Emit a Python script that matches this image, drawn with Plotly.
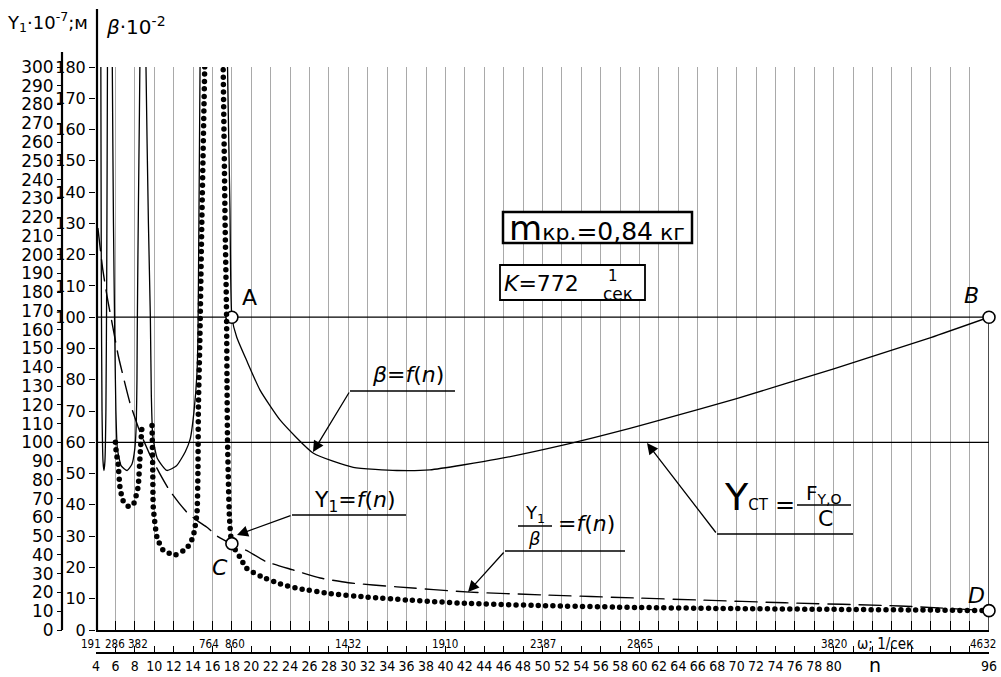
import plotly.graph_objects as go

# ---------------- data ----------------
n_grid_step = 2
omega_pos = [4, 6, 8, 16, 18, 30, 40, 50, 60, 80, 96]
omega_lab = ["191", "286", "382", "764", "860", "1432", "1910", "2387", "2865", "3820", "4632"]
n_label_vals = list(range(4, 81, 2)) + [96]

beta_ticks = list(range(0, 181, 10))
y1_ticks = list(range(0, 301, 10))

# beta = f(n)  (beta·10^-2 scale); values above 180 run off the chart top
beta_n = [4.45, 4.5, 4.55, 4.62, 4.72, 4.82, 4.92, 5.02, 5.1, 5.18, 5.25,
          5.6, 5.68, 5.8, 5.93, 6.05, 6.2, 6.6, 7.2, 7.7, 8.0, 8.15, 8.22, 8.25, 8.32, 8.42, 8.52, 8.6,
          9.0, 9.15, 9.4, 9.6, 9.7, 9.85, 10.3, 11.3, 12.3, 13.2, 13.7, 14.1, 14.4, 14.5, 14.6, 14.72, 14.85,
          17.3, 17.55, 17.8, 18.0, 18.5, 19.5, 20.9, 23.0, 26.4, 30.5, 35.0, 38.4, 45.3, 52.1, 59.0, 62.0,
          70.0, 80.0, 90.0, 96.0]
beta_v = [260, 180, 110, 70, 54, 51, 54, 70, 110, 180, 260,
          260, 180, 130, 95, 70, 58, 52.5, 51, 53, 58, 66, 80, 95, 120, 150, 180, 260,
          260, 180, 130, 100, 75, 62, 55, 51, 52.5, 57, 61, 70, 82, 93, 130, 180, 260,
          260, 180, 135, 100, 93.6, 86.3, 76.7, 67, 56.5, 52, 51, 51.2, 54.6, 59.1, 64.5, 67,
          74, 83.5, 93.5, 100]

# Y1 = f(n)  (Y1·10^-7 m scale)
y1_n = [6.0, 6.1, 6.27, 6.47, 6.78, 7.3, 7.81, 8.33, 8.53, 8.74, 8.84, None,
        9.77, 9.8, 9.85, 9.9, 10.28, 10.9, 12.14, 13.37, 13.99, 14.4, 14.5, 14.55, 14.7, 14.9, 15.2, 15.3, None,
        17.0, 17.1, 17.3, 17.45, 17.5, 17.55, 17.75, 18.0, 18.8, 19.5, 21, 23, 25, 28, 32, 36, 42, 50, 60,
        70, 80, 90, 96]
y1_v = [100, 94, 89, 76, 69, 66, 66.5, 76, 92, 108, 110, None,
        109, 101, 84, 65.5, 49.5, 42.6, 40, 43.7, 49.5, 62, 83.6, 119, 154.5, 217, 300, 330, None,
        330, 300, 217, 168, 130, 101, 60, 46, 39, 33, 28.5, 24.5, 22, 19.5, 17.5, 16, 14.2, 13, 12,
        11.4, 11, 10.6, 10.3]

# Y1/beta = f(n)  (drawn on the Y1 scale)
ratio_n = [4.2, 4.7, 5.2, 5.75, 6.3, 7.0, 7.5, 8.5, 9.5, 10.5, 11.5, 12.5, 13.5, 14.5, 15.5, 16.5,
           18.0, 19.5, 21.5, 24.3, 27.1, 30.0, 35.0, 42.5, 50.0, 60.0, 66.0, 75.0, 86.8, 96.0]
ratio_v = [214, 192, 176, 161, 146, 131, 121, 106, 94, 84, 75, 68, 62, 58, 54.5, 50,
           45.8, 42.4, 36.5, 32, 27.7, 25.2, 23, 20.2, 18.7, 17, 16, 14.5, 12.8, 10.3]

A_n, A_beta = 18, 100
B_n, B_beta = 96, 100
C_n, C_y1 = 18, 46
D_n, D_y1 = 96, 10.3
Y_CT_beta = 60
N_MIN, N_MAX = 4, 96

# ---------------- geometry helpers (layout only) ----------------
W, H = 1001, 677
ML, MR, MT, MB = 62, 12, 67, 24
PW, PH = W - ML - MR, H - MT - MB


def px(x):
    return (x - ML) / PW


def py(y):
    return (H - MB - y) / PH


FONT = "DejaVu Sans"
NARROW = "DejaVu Sans Condensed, Liberation Sans Narrow, Liberation Sans, Arial"

# horizontal nudges (px) for crowded omega labels
omega_shift = {4: -5, 6: 0, 8: 3, 16: -3, 18: 3, 96: -6}

fig = go.Figure()

fig.add_trace(go.Scatter(x=beta_n, y=beta_v, mode="lines", xaxis="x", yaxis="y",
                         line=dict(color="black", width=1.3, shape="spline", smoothing=0.5),
                         hoverinfo="skip"))
fig.add_trace(go.Scatter(x=ratio_n, y=ratio_v, mode="lines", xaxis="x", yaxis="y2",
                         line=dict(color="black", width=1.4, dash="22px,9px", shape="spline", smoothing=0.5),
                         hoverinfo="skip"))
fig.add_trace(go.Scatter(x=y1_n, y=y1_v, mode="lines", xaxis="x", yaxis="y2",
                         line=dict(color="black", width=5.5, dash="0px,7.4px", shape="spline", smoothing=0.5),
                         connectgaps=False, hoverinfo="skip"))
fig.add_trace(go.Scatter(x=[A_n, B_n], y=[A_beta, B_beta], mode="markers", xaxis="x", yaxis="y",
                         marker=dict(size=12, color="white", line=dict(color="black", width=1.6)),
                         cliponaxis=False, hoverinfo="skip"))
fig.add_trace(go.Scatter(x=[C_n, D_n], y=[C_y1, D_y1], mode="markers", xaxis="x", yaxis="y2",
                         marker=dict(size=12, color="white", line=dict(color="black", width=1.6)),
                         cliponaxis=False, hoverinfo="skip"))
# invisible trace so the second (n) axis is drawn
fig.add_trace(go.Scatter(x=[N_MIN, N_MAX], y=[0, 0], mode="markers", xaxis="x2", yaxis="y",
                         marker=dict(opacity=0), hoverinfo="skip"))

shapes = []
shapes.append(dict(type="line", xref="x", yref="y", x0=N_MIN, x1=B_n, y0=A_beta, y1=B_beta,
                   line=dict(color="black", width=1.2), layer="between"))
shapes.append(dict(type="line", xref="x", yref="y", x0=N_MIN, x1=B_n, y0=Y_CT_beta, y1=Y_CT_beta,
                   line=dict(color="black", width=1.2), layer="between"))
shapes.append(dict(type="line", xref="x", yref="y", x0=B_n, x1=B_n, y0=0, y1=B_beta,
                   line=dict(color="black", width=1.4), layer="between"))
# axis lines (extend above plot)
shapes.append(dict(type="line", xref="paper", yref="paper", x0=px(97), x1=px(97), y0=py(630), y1=py(9),
                   line=dict(color="black", width=2.2)))
shapes.append(dict(type="line", xref="paper", yref="paper", x0=px(62), x1=px(62), y0=py(630), y1=py(52),
                   line=dict(color="black", width=2.2)))
# underlines of labels
for (x0, x1, y) in [(350, 455, 391), (292, 406, 515), (505, 625, 551), (717, 853, 534)]:
    shapes.append(dict(type="line", xref="paper", yref="paper", x0=px(x0), x1=px(x1), y0=py(y), y1=py(y),
                       line=dict(color="black", width=1.5)))
# fraction bars
for (x0, x1, y) in [(518, 552, 526), (797, 851, 505), (600, 637, 286)]:
    shapes.append(dict(type="line", xref="paper", yref="paper", x0=px(x0), x1=px(x1), y0=py(y), y1=py(y),
                       line=dict(color="black", width=1.5)))
# boxes
shapes.append(dict(type="rect", xref="paper", yref="paper", x0=px(503), x1=px(692), y0=py(243), y1=py(212),
                   line=dict(color="black", width=2.5), fillcolor="white"))
shapes.append(dict(type="rect", xref="paper", yref="paper", x0=px(500), x1=px(645), y0=py(300), y1=py(265),
                   line=dict(color="black", width=1.8), fillcolor="white"))

ann = []


def T(text, x, y, size, xa="center", ya="middle", fam=FONT):
    ann.append(dict(text=text, x=px(x), y=py(y), xref="paper", yref="paper", showarrow=False,
                    xanchor=xa, yanchor=ya, font=dict(family=fam, size=size, color="black")))


def nx(x):
    return 4 + (x - 96) / 9.7065


def by(y):
    return (630 - y) / (563 / 180)


def ARROW(tip, start):
    ann.append(dict(text="", x=nx(tip[0]), y=by(tip[1]), xref="x", yref="y",
                    ax=nx(start[0]), ay=by(start[1]), axref="x", ayref="y",
                    showarrow=True, arrowhead=2, arrowsize=1.7, arrowwidth=1.3, arrowcolor="black"))


# omega scale labels (placed at their n positions)
for v, s in zip(omega_pos, omega_lab):
    ann.append(dict(text=s, x=v, y=py(644), xref="x", yref="paper", showarrow=False,
                    xanchor="center", yanchor="middle", xshift=omega_shift.get(v, 0),
                    font=dict(family=NARROW, size=11.5, color="black")))

# axis titles
T("Y<sub>1</sub>·10<sup>-7</sup>;м", 5, 22, 18, xa="left")
T("<i>β</i>·10<sup>-2</sup>", 104, 26, 20, xa="left")

# point labels
T("A", 249, 297, 22)
T("<i>B</i>", 971, 295, 22)
T("<i>C</i>", 220, 567, 22)
T("<i>D</i>", 976, 595, 22)

# curve labels
T("<i>β</i>=<i>f</i>(<i>n</i>)", 408, 374, 22)
ARROW((313, 452), (350, 391))
T("Y<sub>1</sub>=<i>f</i>(<i>n</i>)", 355, 501, 22)
ARROW((237, 535), (292, 515))
T("Y<sub>1</sub>", 535, 514, 18)
T("<i>β</i>", 534, 538, 18)
T("=<i>f</i>(<i>n</i>)", 586, 523, 22)
ARROW((468, 592), (505, 551))
T('<span style="font-size:38px">Y</span><span style="font-size:15px">СТ</span>',
  722, 521, 28, xa="left", ya="bottom")
T("=", 785, 505, 24)
T("F<sub>Y,O</sub>", 824, 494, 20)
T("C", 825, 518, 22)
ARROW((647, 443), (717, 534))

# boxes' text
T('<span style="font-size:34px">m</span><span style="font-size:22px">кр.</span>'
  '<span style="font-size:25px">=0,84</span><span style="font-size:22px"> кг</span>', 597, 228, 25)
T("<i>K</i>=772", 541, 283, 22)
T("1", 613, 276, 15)
T("сек", 618, 294, 17)

# bottom axis captions
T("ω; 1/сек", 855, 644, 15, xa="left", fam=NARROW)
T("n", 875, 665, 19)

fig.update_layout(
    width=W, height=H,
    margin=dict(l=ML, r=MR, t=MT, b=MB),
    paper_bgcolor="white", plot_bgcolor="white",
    showlegend=False,
    shapes=shapes, annotations=ann,
    xaxis=dict(domain=[px(96), 1], range=[N_MIN, N_MAX], anchor="y",
               tickmode="array", tickvals=omega_pos, showticklabels=False,
               ticks="inside", ticklen=9, tickwidth=1.2, tickcolor="black",
               minor=dict(tick0=N_MIN, dtick=n_grid_step, ticks="inside", ticklen=9, tickwidth=1.2,
                          tickcolor="black", showgrid=True, gridcolor="#a9a9a9", gridwidth=1),
               showline=True, linecolor="black", linewidth=1.6,
               showgrid=True, gridcolor="#a9a9a9", gridwidth=1, zeroline=False, automargin=False),
    xaxis2=dict(overlaying="x", anchor="free", position=0, side="bottom", range=[N_MIN, N_MAX],
                tickmode="array", tickvals=n_label_vals, ticktext=[str(v) for v in n_label_vals],
                tickangle=0,
                ticks="inside", ticklen=6, tickwidth=1.2, tickcolor="black",
                minor=dict(tick0=N_MIN, dtick=n_grid_step, ticks="inside", ticklen=6, tickwidth=1.2,
                           tickcolor="black", showgrid=False),
                showline=True, linecolor="black", linewidth=1.6, showgrid=False, zeroline=False,
                tickfont=dict(family=NARROW, size=14, color="black"), automargin=False),
    yaxis=dict(domain=[py(630), 1], range=[0, 180], anchor="x",
               tickmode="array", tickvals=beta_ticks,
               ticks="outside", ticklen=6, tickwidth=1.4, tickcolor="black",
               showline=False, showgrid=False, zeroline=False,
               tickfont=dict(family=FONT, size=16, color="black"), automargin=False),
    yaxis2=dict(overlaying="y", anchor="free", position=0, side="left", range=[0, 300],
                tickmode="array", tickvals=y1_ticks,
                ticks="outside", ticklen=5, tickwidth=1.4, tickcolor="black",
                showline=False, showgrid=False, zeroline=False,
                tickfont=dict(family=FONT, size=17, color="black"), automargin=False),
)

post = ("var s=document.createElement('style');"
        "s.innerHTML='body{margin:0 !important;} .js-line{stroke-linecap:round !important;}';"
        "document.head.appendChild(s);")
fig.write_html("out.html", post_script=post, config={"displayModeBar": False})
